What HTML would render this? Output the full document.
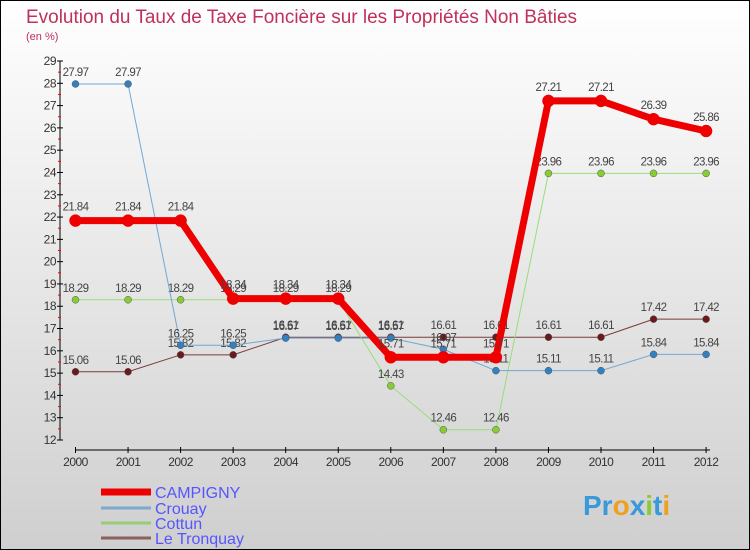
<!DOCTYPE html>
<html><head><meta charset="utf-8"><style>
html,body{margin:0;padding:0}
body{width:750px;height:550px;overflow:hidden;font-family:"Liberation Sans",sans-serif}
#wrap{position:absolute;left:0;top:0;width:748px;height:548px;border:1px solid #000;background:linear-gradient(#ffffff,#cfcfcf)}
</style></head><body>
<div id="wrap">
<svg id="chart" width="750" height="550" style="position:absolute;left:-1px;top:-1px">
<text x="26" y="23" font-size="19" fill="#c0305a" textLength="551" lengthAdjust="spacingAndGlyphs">Evolution du Taux de Taxe Foncière sur les Propriétés Non Bâties</text>
<text x="26" y="40" font-size="11" fill="#c0305a">(en %)</text>
</svg>
</div>
<script>
const years=[2000,2001,2002,2003,2004,2005,2006,2007,2008,2009,2010,2011,2012];
const yTicks=[12,13,14,15,16,17,18,19,20,21,22,23,24,25,26,27,28,29];
const campigny=[21.84,21.84,21.84,18.34,18.34,18.34,15.71,15.71,15.71,27.21,27.21,26.39,25.86];
const crouay=[27.97,27.97,16.25,16.25,16.57,16.57,16.57,16.07,15.11,15.11,15.11,15.84,15.84];
const cottun=[18.29,18.29,18.29,18.29,18.29,18.29,14.43,12.46,12.46,23.96,23.96,23.96,23.96];
const tronquay=[15.06,15.06,15.82,15.82,16.61,16.61,16.61,16.61,16.61,16.61,16.61,17.42,17.42];
const NS="http://www.w3.org/2000/svg";
const svg=document.getElementById('chart');
const xS=i=>75.5+i*52.55;
const yS=v=>440-(v-12)*(379/17);
function mk(t,a,p){const e=document.createElementNS(NS,t);for(const k in a)e.setAttribute(k,a[k]);(p||svg).appendChild(e);return e;}
const ya=mk('line',{x1:60,y1:61,x2:60,y2:440,stroke:'#000','stroke-width':1});


yTicks.forEach(v=>{
 mk('line',{x1:57,x2:63,y1:yS(v),y2:yS(v),stroke:'#000'});
 if(v<29)mk('line',{x1:58,x2:61,y1:yS(v+0.5),y2:yS(v+0.5),stroke:'#f00'});
 const t=mk('text',{x:56,y:yS(v)+4,'font-size':12,'text-anchor':'end',fill:'#333','letter-spacing':'-0.5'});
 t.textContent=v;
 
 
});
const xa=mk('line',{x1:75,y1:450,x2:710,y2:450,stroke:'#000','stroke-width':1});


years.forEach((y,i)=>{
 mk('line',{x1:xS(i),x2:xS(i),y1:447,y2:453,stroke:'#000'});
 const t=mk('text',{x:xS(i),y:466,'font-size':12,'text-anchor':'middle',fill:'#333','letter-spacing':'-0.5'});
 t.textContent=y;
 
 
});
const series=[
 {name:'le-tronquay',d:tronquay,c:'#7a3a3a',f:'#6a1a1a',w:1,r:3.5},
 {name:'cottun',d:cottun,c:'#99dd77',f:'#88cc33',w:1,r:3.5},
 {name:'crouay',d:crouay,c:'#6fa8d6',f:'#3380c0',w:1,r:3.5},
 {name:'campigny',d:campigny,c:'#ee0000',f:'#ee0000',w:7,r:6}
];
series.forEach(s=>{
 const g=mk('g',{});
 
 
 const l=mk('polyline',{points:s.d.map((v,i)=>xS(i)+','+yS(v)).join(' '),fill:'none',stroke:s.c,'stroke-width':s.w},g);
 
 
 s.d.forEach((v,i)=>{
  const p=mk('circle',{cx:xS(i),cy:yS(v),r:s.r,fill:s.f,stroke:s.name==='campigny'?'#ee0000':'#555','stroke-width':0.5},g);
  
  
  const t=mk('text',{x:xS(i),y:yS(v)-(s.name==='campigny'?10:8),'font-size':11.5,'text-anchor':'middle',fill:'#444','letter-spacing':'-0.6'},g);
  t.textContent=v.toFixed(2);
  
  
 });
});
const leg=[['CAMPIGNY','#ee0000',7,498],['Crouay','#7aaacc',3,514],['Cottun','#99cc77',3,529],['Le Tronquay','#8a6060',3,544]];
leg.forEach(e=>{
 const g=mk('g',{});
 
 
 mk('line',{x1:101,x2:151,y1:e[3]-6,y2:e[3]-6,stroke:e[1],'stroke-width':e[2]},g);
 const t=mk('text',{x:155,y:e[3],'font-size':16,fill:'#5555ff'},g);
 t.textContent=e[0];
});
const lg=mk('text',{x:583,y:515,'font-size':28,'font-weight':'bold',fill:'#3a9ad9'});
lg.innerHTML='<tspan fill="#3a9ad9">Pr</tspan><tspan fill="#f0a020">o</tspan><tspan fill="#3a9ad9">x</tspan><tspan fill="#88cc33">i</tspan><tspan fill="#3a9ad9">t</tspan><tspan fill="#f0a020">i</tspan>';


</script>
</body></html>
